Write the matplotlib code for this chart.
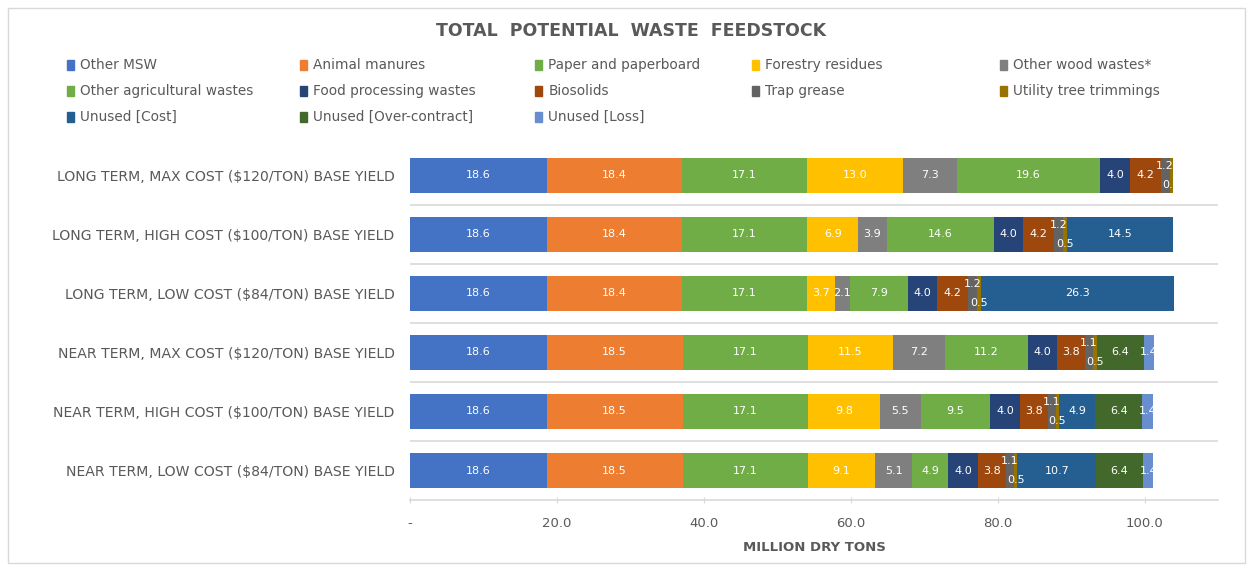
import matplotlib
matplotlib.use("Agg")
import numpy as np
import matplotlib.pyplot as plt
from matplotlib.patches import Rectangle

# Categories, top to bottom
categories = [
    "LONG TERM, MAX COST ($120/TON) BASE YIELD",
    "LONG TERM, HIGH COST ($100/TON) BASE YIELD",
    "LONG TERM, LOW COST ($84/TON) BASE YIELD",
    "NEAR TERM, MAX COST ($120/TON) BASE YIELD",
    "NEAR TERM, HIGH COST ($100/TON) BASE YIELD",
    "NEAR TERM, LOW COST ($84/TON) BASE YIELD",
]

series_names = [
    "Other MSW", "Animal manures", "Paper and paperboard", "Forestry residues",
    "Other wood wastes*", "Other agricultural wastes", "Food processing wastes",
    "Biosolids", "Trap grease", "Utility tree trimmings", "Unused [Cost]",
    "Unused [Over-contract]", "Unused [Loss]",
]

other_msw = [18.6, 18.6, 18.6, 18.6, 18.6, 18.6]
animal_manures = [18.4, 18.4, 18.4, 18.5, 18.5, 18.5]
paper = [17.1, 17.1, 17.1, 17.1, 17.1, 17.1]
forestry = [13.0, 6.9, 3.7, 11.5, 9.8, 9.1]
other_wood = [7.3, 3.9, 2.1, 7.2, 5.5, 5.1]
other_ag = [19.6, 14.6, 7.9, 11.2, 9.5, 4.9]
food_processing = [4.0, 4.0, 4.0, 4.0, 4.0, 4.0]
biosolids = [4.2, 4.2, 4.2, 3.8, 3.8, 3.8]
trap_grease = [1.2, 1.2, 1.2, 1.1, 1.1, 1.1]
utility_trees = [0.5, 0.5, 0.5, 0.5, 0.5, 0.5]
unused_cost = [0.0, 14.5, 26.3, 0.0, 4.9, 10.7]
unused_over = [0.0, 0.0, 0.0, 6.4, 6.4, 6.4]
unused_loss = [0.0, 0.0, 0.0, 1.4, 1.4, 1.4]

series_values = [
    other_msw, animal_manures, paper, forestry, other_wood, other_ag,
    food_processing, biosolids, trap_grease, utility_trees, unused_cost,
    unused_over, unused_loss,
]

colors = [
    "#4472C4", "#ED7D31", "#70AD47", "#FFC000", "#7F7F7F", "#70AD47",
    "#264478", "#9E480E", "#636363", "#997300", "#255E91", "#43682B",
    "#698ED0",
]

# label vertical offsets (points) for the thin slices
label_offset = {8: 7, 9: -7}

TEXT_GRAY = "#595959"
GRID_GRAY = "#D9D9D9"

fig = plt.figure(figsize=(12.5, 5.65), dpi=100)
ax = fig.add_axes([0.328, 0.115, 0.6464, 0.627])

y = np.arange(len(categories))
left = np.zeros(len(categories))
for i, (name, vals, col) in enumerate(zip(series_names, series_values, colors)):
    vals = np.array(vals)
    ax.barh(y, vals, left=left, height=0.6, color=col, edgecolor="none")
    for yi, (lv, v) in enumerate(zip(left, vals)):
        if v <= 0:
            continue
        ax.annotate(f"{v:.1f}", (lv + v / 2, yi), xytext=(0, label_offset.get(i, 0)),
                    textcoords="offset points", ha="center", va="center",
                    color="white", fontsize=8)
    left += vals

ax.set_ylim(len(categories) - 0.5, -0.5)
ax.set_xlim(0, 110)
ax.set_yticks(y)
ax.set_yticklabels(categories, fontsize=10.1, color=TEXT_GRAY)
ax.tick_params(axis="y", length=0, pad=11)
ax.set_xticks([0, 20, 40, 60, 80, 100])
ax.set_xticklabels(["-", "20.0", "40.0", "60.0", "80.0", "100.0"], fontsize=9.5,
                   color=TEXT_GRAY)
ax.tick_params(axis="x", length=5, color=GRID_GRAY, pad=10, direction="inout")

for b in np.arange(0.5, len(categories) - 0.5, 1.0):
    ax.axhline(b, color=GRID_GRAY, lw=1.2, zorder=0)

for s in ["top", "right", "left"]:
    ax.spines[s].set_visible(False)
ax.spines["bottom"].set_color(GRID_GRAY)
ax.spines["bottom"].set_linewidth(1.2)

ax.set_xlabel("MILLION DRY TONS", fontsize=9.5, fontweight="bold",
              color=TEXT_GRAY, labelpad=8)

fig.text(0.505, 0.945, "TOTAL  POTENTIAL  WASTE  FEEDSTOCK", ha="center",
         va="center", fontsize=12.5, fontweight="bold", color=TEXT_GRAY)

# legend laid out like the spreadsheet legend
legend_x = [0.0536, 0.24, 0.428, 0.6016, 0.8]
legend_y = [0.885, 0.839, 0.793]
for i, (name, col) in enumerate(zip(series_names, colors)):
    lx = legend_x[i % 5]
    ly = legend_y[i // 5]
    fig.patches.append(Rectangle((lx, ly - 0.0085), 0.0056, 0.017, color=col,
                                 transform=fig.transFigure, figure=fig))
    fig.text(lx + 0.0105, ly, name, ha="left", va="center", fontsize=9.8,
             color=TEXT_GRAY)

fig.patches.append(Rectangle((0.006, 0.004), 0.99, 0.982, fill=False,
                             edgecolor=GRID_GRAY, lw=1,
                             transform=fig.transFigure, figure=fig))

fig.savefig("out.png", dpi=100, facecolor="white")
